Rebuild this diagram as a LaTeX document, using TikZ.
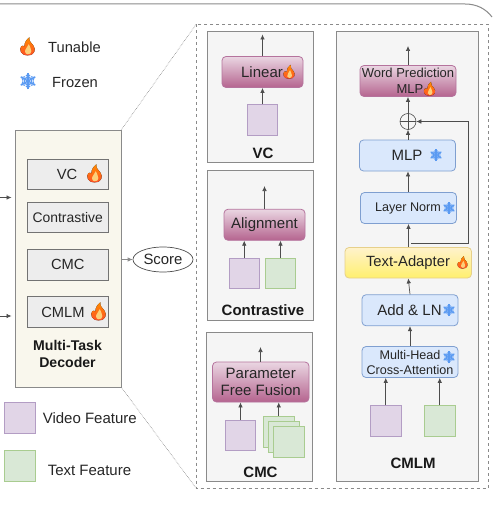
\documentclass[tikz,border=0pt]{standalone}
\usepackage{fontspec}
\setmainfont{Liberation Sans}
\usetikzlibrary{arrows.meta, shapes.geometric}
\definecolor{clline}{HTML}{4D4D4D}
\definecolor{clframe}{HTML}{8A8A8A}
\definecolor{clvid}{HTML}{E1D5E7}
\definecolor{clvidl}{HTML}{B39DC4}
\definecolor{cltxt}{HTML}{D9E8D6}
\definecolor{cltxtl}{HTML}{A9CC90}
\definecolor{clblue}{HTML}{DAE8FC}
\definecolor{clbluel}{HTML}{7F9FD0}
\definecolor{clice}{HTML}{5A9AF2}
\definecolor{clpinkt}{HTML}{EAD6E2}
\definecolor{clpinkb}{HTML}{B5648F}
\definecolor{clpinkl}{HTML}{B5739D}
\definecolor{clyelt}{HTML}{FFF2CC}
\definecolor{clyelb}{HTML}{FFF06E}
\definecolor{clyell}{HTML}{E6D08A}
\definecolor{cldec}{HTML}{F9F7ED}
\newcommand*{\fsz}[1]{\fontsize{#1}{#1}\selectfont}
\newcommand*{\picw}{12}
\tikzset{>={Latex[length=5pt,width=4.5pt]}}
\tikzset{
    flow/.style={draw=clline, line width=.7pt, ->},
    panel/.style={draw=clframe, fill=black!4, line width=1pt, inner sep=0pt},
    tag/.style={inner sep=0pt, text=black!85, font=\fsz{15}},
    headtag/.style={inner sep=0pt, text=black!90, font=\fsz{15}\bfseries, align=center},
    task/.style={draw=black!55, fill=black!7, line width=1pt, inner sep=0pt, minimum width=81pt, minimum height=30.5pt, font=\fsz{14.7}, text=black!85},
    pinkbox/.style={draw=clpinkl, top color=clpinkt, bottom color=clpinkb, rounded corners=4pt, line width=.8pt, inner sep=0pt, minimum height=31pt, text=black!85},
    bluebox/.style={draw=clbluel, fill=clblue, rounded corners=4pt, line width=.8pt, inner sep=0pt, minimum width=96pt, minimum height=31pt, text=black!85},
    vidbox/.style={draw=clvidl, fill=clvid, line width=1pt, inner sep=0pt, minimum size=30.5pt},
    txtbox/.style={draw=cltxtl, fill=cltxt, line width=1pt, inner sep=0pt, minimum size=30.5pt},
    flame/.pic={
        \fill[top color=orange!90!yellow, bottom color=red!60!orange!85] (0,.68)..controls(-.55,.68)and(-.66,.2)..(-.48,-.02)..controls(-.36,-.14)and(-.32,-.02)..(-.24,.02)..controls(-.27,-.3)and(-.05,-.55)..(.15,-.72)..controls(.1,-.4)and(.28,-.3)..(.45,-.08)..controls(.66,.2)and(.6,.68)..(0,.68)--cycle;
        \fill[yellow!30!orange!50!white] (.02,.6)..controls(-.2,.6)and(-.26,.3)..(-.08,.12)..controls(0,.02)and(.05,-.08)..(.1,-.18)..controls(.12,-.03)and(.32,.14)..(.3,.36)..controls(.28,.52)and(.18,.6)..(.02,.6)--cycle;
    },
    frost/.pic={
        \foreach \ang in {0, 60, 120}{
            \draw[clice, line width=.09pt*\picw, rotate=90+\ang] (-.52,0)--(.52,0);
        }
        \foreach \ang in {0, 60, 120, 180, 240, 300}{
            \draw[clice, line width=.06pt*\picw, rotate=90+\ang] (.14,-.16)--(.3,0)--(.14,.16) (.3,-.14)--(.44,0)--(.3,.14);
        }
    },
}
\begin{document}
\begin{tikzpicture}[x=1pt, y=-1pt]
    \useasboundingbox (0,0) rectangle (492,508);
    % outer frame, cut by the page
    \draw[clframe, line width=1pt](0,4)--(465,4)..controls(477,4)and(486,9)..(492,17);
    % legend
    \pic[scale=13] at (27.5,46.5){flame};
    \node[tag, font=\fsz{14.7}] (tunable) at (74.5,47){Tunable};
    \renewcommand*{\picw}{16}
    \pic[scale=16] at (28,81){frost};
    \node[tag, font=\fsz{14.7}] (frozen) at (75,83){Frozen};
    \node[vidbox] (legvid) at (19.75,418){};
    \node[tag] (legvidtag) at (89.75,418.5){Video Feature};
    \node[txtbox] (legtxt) at (19.75,466){};
    \node[tag] (legtxttag) at (89.5,470){Text Feature};
    % decoder
    \coordinate (infirst) at (0,197.5);
    \coordinate (insecond) at (0,316);
    \node[draw=clframe, fill=cldec, line width=1pt, inner sep=0pt, minimum width=106pt, minimum height=257pt] (decoder) at (68,258.5){};
    \draw[flow, shorten >=3pt] (infirst)--(infirst -| decoder.west);
    \draw[flow, shorten >=3pt] (insecond)--(insecond -| decoder.west);
    \node[task] (taskvc) at (67.75,174.25){};
    \node[tag, font=\fsz{14.7}] at (67,174){VC};
    \pic[scale=13] at (94.5,173.5){flame};
    \node[task, font=\fsz{13.9}] (taskcon) at (67.75,217.5){Contrastive};
    \node[task] (taskcmc) at (67.75,264.75){CMC};
    \node[task] (taskcmlm) at (67.75,312){};
    \node[tag, font=\fsz{14.7}] at (63,312){CMLM};
    \pic[scale=13] at (98.5,311.5){flame};
    \node[headtag, font=\fsz{14.1}\bfseries] (decodertag) at (67.5,354){Multi-Task\\[3.5pt]Decoder};
    \node[draw=clline, fill=white, line width=.7pt, ellipse, inner sep=0pt, minimum width=60pt, minimum height=25pt, font=\fsz{14.9}, text=black!85] (score) at (163,259.5){Score};
    \draw[flow, draw=clframe] (score -| decoder.east)--(score);
    % zoom lines
    \draw[clframe, densely dotted, line width=.6pt](decoder.north east)--(196,24.5);
    \draw[clframe, densely dotted, line width=.6pt](decoder.south east)--(196,488);
    \draw[clframe, dashed, line width=.9pt](196,24.5) rectangle (488,488);
    % VC
    \node[panel, minimum width=106pt, minimum height=131pt] (panvc) at (260,97.25){};
    \node[pinkbox, minimum width=81pt] (boxlinear) at (262.5,72){};
    \node[tag] at (262,72){Linear};
    \pic[scale=10] at (289,72){flame};
    \node[vidbox] (vidvc) at (262.5,120.25){};
    \coordinate (outvc) at (262.5,34.5);
    \draw[flow] (vidvc)--(boxlinear);
    \draw[flow] (boxlinear)--(outvc);
    \node[headtag] at (263,153){VC};
    % Contrastive
    \node[panel, minimum width=106pt, minimum height=149.5pt] (pancon) at (260,245.25){};
    \node[pinkbox, minimum width=81pt, font=\fsz{15}] (boxalign) at (264.5,224.75){Alignment};
    \node[vidbox] (vidcon) at (244.25,273.5){};
    \node[txtbox] (txtcon) at (280.5,273.5){};
    \coordinate (outcon) at (264.5,186);
    \draw[flow] (vidcon.north)--(vidcon.north |- boxalign.south);
    \draw[flow] (txtcon.north)--(txtcon.north |- boxalign.south);
    \draw[flow] (boxalign)--(outcon);
    \node[headtag] at (263,310){Contrastive};
    % CMC
    \node[panel, minimum width=106pt, minimum height=149.5pt] (pancmc) at (259.5,406.75){};
    \node[pinkbox, minimum width=96.5pt, minimum height=40pt, align=center, font=\fsz{15}] (boxfusion) at (260.75,382){Parameter\\[2.5pt]Free Fusion};
    \node[vidbox] (vidcmc) at (240.5,435.25){};
    \node[txtbox] (txtback) at (278.75,431.75){};
    \node[txtbox] (txtmid) at (283.75,436.75){};
    \node[txtbox] (txtfront) at (288.75,441.75){};
    \coordinate (outcmc) at (260.5,347);
    \draw[flow] (vidcmc.north)--(vidcmc.north |- boxfusion.south);
    \draw[flow] (txtback.north)--(txtback.north |- boxfusion.south);
    \draw[flow] (boxfusion.north -| outcmc)--(outcmc);
    \node[headtag] at (260.5,472){CMC};
    % CMLM
    \node[panel, minimum width=142pt, minimum height=449.5pt] (pancmlm) at (407.5,256.75){};
    \node[vidbox] (vidcmlm) at (385.75,421){};
    \node[txtbox] (txtcmlm) at (439.75,421){};
    \node[bluebox] (boxcross) at (410,362){};
    \node[tag, font=\fsz{12.6}] at (410,355){Multi-Head};
    \node[tag, font=\fsz{12.6}] at (410,370){Cross-Attention};
    \renewcommand*{\picw}{12}
    \pic[scale=12] at (449,357){frost};
    \node[bluebox] (boxaddln) at (410,310.25){};
    \node[tag] at (409.5,310.5){Add \& LN};
    \pic[scale=12] at (449,310){frost};
    \node[draw=clyell, top color=clyelt, bottom color=clyelb, rounded corners=4pt, line width=.8pt, inner sep=0pt, minimum width=126.5pt, minimum height=30.5pt] (boxadapter) at (408.25,262.75){};
    \node[tag, font=\fsz{14.8}] at (408,263){Text-Adapter};
    \pic[scale=9] at (462.5,262.5){flame};
    \node[bluebox] (boxnorm) at (408.5,208){};
    \node[tag, font=\fsz{12.6}] at (408,208.5){Layer Norm};
    \pic[scale=12] at (449,208){frost};
    \node[bluebox] (boxmlp) at (407.5,155.5){};
    \node[tag] at (407,155.5){MLP};
    \pic[scale=12] at (436,155){frost};
    \node[draw=clline, line width=.6pt, fill=none, circle, inner sep=0pt, minimum size=16pt] (plus) at (408,121.5){};
    \draw[clline, line width=.6pt](plus.north)--(plus.south) (plus.west)--(plus.east);
    \node[pinkbox, minimum width=96pt] (boxword) at (408,81){};
    \node[tag, font=\fsz{13}] at (408,73){Word Prediction};
    \node[tag, font=\fsz{13}] at (410,89){MLP};
    \pic[scale=10] at (429.5,89){flame};
    \coordinate (outcmlm) at (408,46);
    \coordinate (skipfrom) at (411,243);
    \coordinate (skipturn) at (468.5,243);
    \draw[flow] (vidcmlm.north)--(vidcmlm.north |- boxcross.south);
    \draw[flow] (txtcmlm.north)--(txtcmlm.north |- boxcross.south);
    \draw[flow] (boxcross)--(boxaddln);
    \draw[flow] (boxaddln.north)--(boxadapter.south);
    \draw[flow] (boxadapter.north -| boxnorm)--(boxnorm);
    \draw[flow] (boxnorm.north -| plus)--(boxmlp.south -| plus);
    \draw[flow] (boxmlp.north -| plus)--(plus);
    \draw[flow] (plus)--(boxword);
    \draw[flow] (boxword)--(outcmlm);
    \draw[flow, line width=.6pt] (skipfrom)--(skipturn)--(skipturn |- plus)--(plus);
    \node[headtag] at (413,463){CMLM};
\end{tikzpicture}
\end{document}
